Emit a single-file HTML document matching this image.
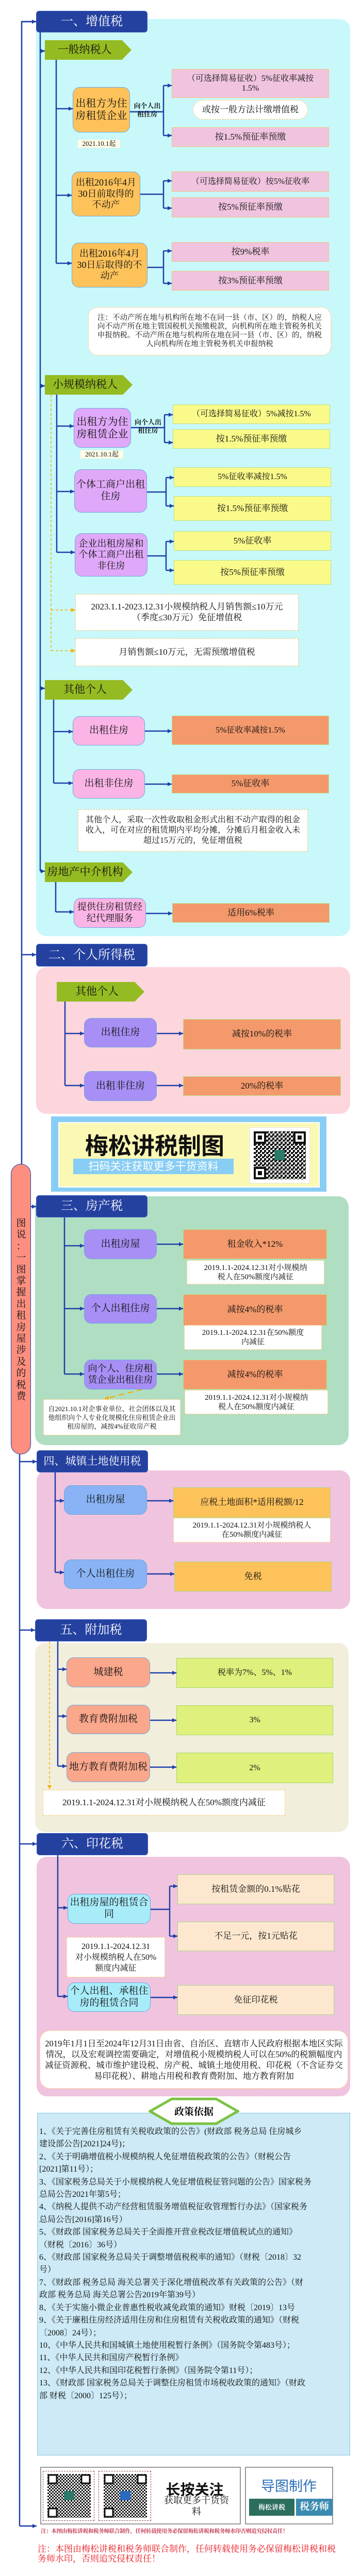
<!DOCTYPE html>
<html><head><meta charset="utf-8">
<style>
*{margin:0;padding:0;box-sizing:border-box}
html{width:700px;height:5052px;overflow:hidden}
body{width:700px;height:5052px;position:relative;background:#fff;overflow:hidden;font-family:"Liberation Serif","Noto Serif CJK SC",serif;color:#111}
.a{position:absolute}
.b{position:absolute;display:flex;align-items:center;justify-content:center;text-align:center;line-height:1.2;z-index:2}
.p{position:absolute;z-index:0}
.hd{background:#2541a0;color:#fff;border-radius:6px;font-size:24px;border:1px solid #3a5cc0;white-space:nowrap}
.pent{background:#95bb22;clip-path:polygon(0 0,89% 0,100% 50%,89% 100%,0 100%);font-size:21px;padding-right:14px}
.rr{border-radius:14px;border:1px solid #6fa8dc}
.pk{background:#f0c4de;border:1px solid #f3c07a;font-size:16px}
.ye{background:#fafa8a;border:1px solid #b8e08a;font-size:16px}
.or{background:#f4996b;border:1px solid #b8e08a;font-size:16px}
.dn{background:#fff;border:1.5px dashed #f5c060;font-size:16px}
.gy{background:#e0f07c;border:1px solid #a8d860;font-size:16px}
.pe{background:#fde8cf;border:1px solid #a8d880;font-size:17px}
.yo{background:#fdc25a;border:1px solid #a8d880;font-size:17px}
</style></head><body>

<!-- panels -->
<div class="p" style="left:70px;top:37px;width:609px;height:1780px;background:#c8f8fa;border-radius:20px"></div>
<div class="p" style="left:70px;top:1877px;width:609px;height:285px;background:#fdd5dd;border-radius:20px"></div>
<div class="p" style="left:68px;top:2322px;width:608px;height:483px;background:#b0dec3;border-radius:20px"></div>
<div class="p" style="left:71px;top:2854px;width:608px;height:269px;background:#f0c4de;border-radius:20px"></div>
<div class="p" style="left:68px;top:3189px;width:608px;height:367px;background:#f2eedc;border-radius:20px"></div>
<div class="p" style="left:71px;top:3604px;width:608px;height:465px;background:#f0c4de;border-radius:20px"></div>

<svg class="a" style="left:0;top:0;z-index:1" width="700" height="5052">
<defs><marker id="m" markerUnits="userSpaceOnUse" markerWidth="8" markerHeight="8" refX="8" refY="4" orient="auto"><path d="M0,0L8,4L0,8z" fill="#1f3fa8"/></marker>
<marker id="mo" markerUnits="userSpaceOnUse" markerWidth="8" markerHeight="8" refX="8" refY="4" orient="auto"><path d="M0,0L8,4L0,8z" fill="#f5b000"/></marker></defs>
<g stroke="#1f3fa8" stroke-width="2.5" fill="none">
<polyline points="70,42 42,42 42,2259"/>
<line x1="42" y1="42" x2="70" y2="42" marker-end="url(#m)"/>
<line x1="42" y1="1853" x2="70" y2="1853" marker-end="url(#m)"/>
<line x1="60" y1="2342" x2="70" y2="2342" marker-end="url(#m)"/>
<line x1="38" y1="2823" x2="38" y2="4903"/>
<line x1="38" y1="2837" x2="71" y2="2837" marker-end="url(#m)"/>
<line x1="38" y1="3164" x2="68" y2="3164" marker-end="url(#m)"/>
<line x1="38" y1="3579" x2="71" y2="3579" marker-end="url(#m)"/>
<line x1="38" y1="4903" x2="71" y2="4903" marker-end="url(#m)"/>
<line x1="78" y1="63" x2="78" y2="1691"/>
<line x1="78" y1="99" x2="87" y2="99" marker-end="url(#m)"/>
<line x1="78" y1="749" x2="87" y2="749" marker-end="url(#m)"/>
<line x1="78" y1="1336" x2="87" y2="1336" marker-end="url(#m)"/>
<line x1="78" y1="1691" x2="87" y2="1691" marker-end="url(#m)"/>
<line x1="109" y1="116" x2="109" y2="511"/>
<line x1="109" y1="211" x2="141" y2="211" marker-end="url(#m)"/>
<line x1="109" y1="379" x2="139" y2="379" marker-end="url(#m)"/>
<line x1="109" y1="511" x2="139" y2="511" marker-end="url(#m)"/>
<line x1="252" y1="217" x2="317" y2="217"/><line x1="317" y1="166" x2="317" y2="263"/>
<line x1="317" y1="166" x2="333" y2="166" marker-end="url(#m)"/><line x1="317" y1="263" x2="333" y2="263" marker-end="url(#m)"/>
<line x1="272" y1="377" x2="317" y2="377"/><line x1="317" y1="351" x2="317" y2="404"/>
<line x1="317" y1="351" x2="333" y2="351" marker-end="url(#m)"/><line x1="317" y1="404" x2="333" y2="404" marker-end="url(#m)"/>
<line x1="286" y1="519" x2="317" y2="519"/><line x1="317" y1="487" x2="317" y2="550"/>
<line x1="317" y1="487" x2="333" y2="487" marker-end="url(#m)"/><line x1="317" y1="550" x2="333" y2="550" marker-end="url(#m)"/>
<line x1="110" y1="766" x2="110" y2="1072"/>
<line x1="110" y1="827" x2="143" y2="827" marker-end="url(#m)"/>
<line x1="110" y1="954" x2="144" y2="954" marker-end="url(#m)"/>
<line x1="110" y1="1072" x2="145" y2="1072" marker-end="url(#m)"/>
<line x1="254" y1="830" x2="319" y2="830"/><line x1="319" y1="805" x2="319" y2="859"/>
<line x1="319" y1="805" x2="335" y2="805" marker-end="url(#m)"/><line x1="319" y1="859" x2="335" y2="859" marker-end="url(#m)"/>
<line x1="285" y1="955" x2="322" y2="955"/><line x1="322" y1="927" x2="322" y2="982"/>
<line x1="322" y1="927" x2="337" y2="927" marker-end="url(#m)"/><line x1="322" y1="982" x2="337" y2="982" marker-end="url(#m)"/>
<line x1="286" y1="1079" x2="322" y2="1079"/><line x1="322" y1="1051" x2="322" y2="1107"/>
<line x1="322" y1="1051" x2="337" y2="1051" marker-end="url(#m)"/><line x1="322" y1="1107" x2="337" y2="1107" marker-end="url(#m)"/>
<line x1="104" y1="1358" x2="104" y2="1520"/>
<line x1="104" y1="1420" x2="141" y2="1420" marker-end="url(#m)"/>
<line x1="104" y1="1520" x2="141" y2="1520" marker-end="url(#m)"/>
<line x1="281" y1="1419" x2="333" y2="1419" marker-end="url(#m)"/>
<line x1="281" y1="1522" x2="333" y2="1522" marker-end="url(#m)"/>
<line x1="108" y1="1712" x2="108" y2="1770"/>
<line x1="108" y1="1770" x2="143" y2="1770" marker-end="url(#m)"/>
<line x1="283" y1="1773" x2="334" y2="1773" marker-end="url(#m)"/>
<line x1="126" y1="1944" x2="126" y2="2107"/>
<line x1="126" y1="2006" x2="163" y2="2006" marker-end="url(#m)"/>
<line x1="126" y1="2107" x2="163" y2="2107" marker-end="url(#m)"/>
<line x1="304" y1="2006" x2="355" y2="2006" marker-end="url(#m)"/>
<line x1="304" y1="2107" x2="355" y2="2107" marker-end="url(#m)"/>
<line x1="125" y1="2363" x2="125" y2="2667"/>
<line x1="125" y1="2418" x2="163" y2="2418" marker-end="url(#m)"/>
<line x1="125" y1="2540" x2="163" y2="2540" marker-end="url(#m)"/>
<line x1="125" y1="2667" x2="163" y2="2667" marker-end="url(#m)"/>
<line x1="304" y1="2415" x2="355" y2="2415" marker-end="url(#m)"/>
<line x1="304" y1="2540" x2="355" y2="2540" marker-end="url(#m)"/>
<line x1="304" y1="2667" x2="355" y2="2667" marker-end="url(#m)"/>
<line x1="107" y1="2858" x2="107" y2="3052"/>
<line x1="107" y1="2913" x2="124" y2="2913" marker-end="url(#m)"/>
<line x1="107" y1="3052" x2="124" y2="3052" marker-end="url(#m)"/>
<line x1="285" y1="2913" x2="336" y2="2913" marker-end="url(#m)"/>
<line x1="285" y1="3055" x2="338" y2="3055" marker-end="url(#m)"/>
<line x1="112" y1="3186" x2="112" y2="3428"/>
<line x1="112" y1="3240" x2="129" y2="3240" marker-end="url(#m)"/>
<line x1="112" y1="3331" x2="129" y2="3331" marker-end="url(#m)"/>
<line x1="112" y1="3428" x2="129" y2="3428" marker-end="url(#m)"/>
<line x1="291" y1="3247" x2="342" y2="3247" marker-end="url(#m)"/>
<line x1="291" y1="3339" x2="342" y2="3339" marker-end="url(#m)"/>
<line x1="291" y1="3430" x2="342" y2="3430" marker-end="url(#m)"/>
<line x1="112" y1="3601" x2="112" y2="3875"/>
<line x1="112" y1="3703" x2="131" y2="3703" marker-end="url(#m)"/>
<line x1="112" y1="3875" x2="131" y2="3875" marker-end="url(#m)"/>
<line x1="292" y1="3706" x2="329" y2="3706"/><line x1="329" y1="3661" x2="329" y2="3758"/>
<line x1="329" y1="3661" x2="344" y2="3661" marker-end="url(#m)"/><line x1="329" y1="3758" x2="344" y2="3758" marker-end="url(#m)"/>
<line x1="292" y1="3877" x2="344" y2="3877" marker-end="url(#m)"/>
</g>
<g stroke="#f5b000" stroke-width="1.5" fill="none" stroke-dasharray="5,4">
<line x1="99" y1="766" x2="99" y2="1263"/>
<line x1="99" y1="1184" x2="146" y2="1184" marker-end="url(#mo)"/>
<line x1="99" y1="1263" x2="146" y2="1263" marker-end="url(#mo)"/>
<line x1="96" y1="3186" x2="96" y2="3473" marker-end="url(#mo)"/>
<line x1="275" y1="2697" x2="203" y2="2715" stroke-width="2.5" stroke-dasharray="10,8" marker-end="url(#mo)"/>
</g>
</svg>

<!-- Section 1 -->
<div class="b hd" style="left:70px;top:21px;width:216px;height:42px">一、增值税</div>
<div class="b pent" style="left:87px;top:78px;width:168px;height:38px">一般纳税人</div>
<div class="b rr" style="left:141px;top:169px;width:111px;height:88px;background:#fdc25a;font-size:20px">出租方为住<br>房租赁企业</div>
<div class="b" style="left:254px;top:198px;width:63px;height:32px;font-size:13px;font-weight:bold">向个人出<br>租住房</div>
<div class="b pk" style="left:333px;top:134px;width:305px;height:56px">（可选择简易征收）5%征收率减按<br>1.5%</div>
<div class="b dn" style="left:374px;top:194px;width:223px;height:38px;border-radius:19px;font-size:17px">或按一般方法计缴增值税</div>
<div class="b pk" style="left:333px;top:247px;width:305px;height:38px;font-size:17px">按1.5%预征率预缴</div>
<div class="b" style="left:151px;top:271px;width:82px;height:16px;background:#fffbe6;font-size:13px">2021.10.1起</div>
<div class="b rr" style="left:139px;top:333px;width:133px;height:87px;background:#fdc25a;font-size:18px">出租2016年4月<br>30日前取得的<br>不动产</div>
<div class="b pk" style="left:333px;top:333px;width:305px;height:39px">（可选择简易征收）按5%征收率</div>
<div class="b pk" style="left:333px;top:383px;width:305px;height:39px;font-size:17px">按5%预征率预缴</div>
<div class="b rr" style="left:139px;top:471px;width:147px;height:87px;background:#fdc25a;font-size:18px">出租2016年4月<br>30日后取得的不<br>动产</div>
<div class="b pk" style="left:333px;top:470px;width:305px;height:38px;font-size:17px">按9%税率</div>
<div class="b pk" style="left:333px;top:526px;width:305px;height:38px;font-size:17px">按3%预征率预缴</div>
<div class="b dn" style="left:171px;top:596px;width:471px;height:94px;border-radius:18px;font-size:14.5px;line-height:17px;padding:0 10px">注：不动产所在地与机构所在地不在同一县（市、区）的，纳税人应向不动产所在地主管国税机关预缴税款，向机构所在地主管税务机关申报纳税。不动产所在地与机构所在地在同一县（市、区）的，纳税人向机构所在地主管税务机关申报纳税</div>

<div class="b pent" style="left:87px;top:728px;width:170px;height:38px">小规模纳税人</div>
<div class="b rr" style="left:143px;top:792px;width:111px;height:77px;background:#e0a8f8;font-size:20px">出租方为住<br>房租赁企业</div>
<div class="b" style="left:257px;top:813px;width:60px;height:30px;font-size:13px;font-weight:bold">向个人出<br>租住房</div>
<div class="b ye" style="left:335px;top:785px;width:305px;height:38px">（可选择简易征收）5%减按1.5%</div>
<div class="b ye" style="left:335px;top:833px;width:305px;height:38px;font-size:17px">按1.5%预征率预缴</div>
<div class="b" style="left:156px;top:874px;width:83px;height:16px;background:#fffbe6;font-size:13px">2021.10.1起</div>
<div class="b rr" style="left:144px;top:911px;width:141px;height:84px;background:#e0a8f8;font-size:19px">个体工商户出租<br>住房</div>
<div class="b ye" style="left:337px;top:907px;width:305px;height:38px">5%征收率减按1.5%</div>
<div class="b ye" style="left:337px;top:963px;width:305px;height:48px;font-size:17px">按1.5%预征率预缴</div>
<div class="b rr" style="left:145px;top:1035px;width:141px;height:84px;background:#e0a8f8;font-size:18px">企业出租房屋和<br>个体工商户出租<br>非住房</div>
<div class="b ye" style="left:337px;top:1031px;width:305px;height:38px;font-size:17px">5%征收率</div>
<div class="b ye" style="left:337px;top:1087px;width:305px;height:48px;font-size:17px">按5%预征率预缴</div>
<div class="b dn" style="left:146px;top:1153px;width:433px;height:71px;font-size:17px">2023.1.1-2023.12.31小规模纳税人月销售额≤10万元<br>（季度≤30万元）免征增值税</div>
<div class="b dn" style="left:146px;top:1239px;width:433px;height:54px;font-size:17px">月销售额≤10万元，无需预缴增值税</div>

<div class="b pent" style="left:87px;top:1320px;width:170px;height:38px">其他个人</div>
<div class="b rr" style="left:141px;top:1390px;width:140px;height:57px;background:#fbb4e6;font-size:19px">出租住房</div>
<div class="b or" style="left:333px;top:1389px;width:305px;height:57px">5%征收率减按1.5%</div>
<div class="b rr" style="left:141px;top:1493px;width:140px;height:57px;background:#fbb4e6;font-size:19px">出租非住房</div>
<div class="b or" style="left:333px;top:1503px;width:305px;height:37px;font-size:17px">5%征收率</div>
<div class="b dn" style="left:151px;top:1571px;width:446px;height:82px;font-size:16px;line-height:20px;padding:0 10px">其他个人，采取一次性收取租金形式出租不动产取得的租金收入，可在对应的租赁期内平均分摊，分摊后月租金收入未超过15万元的，免征增值税</div>
<div class="b pent" style="left:87px;top:1674px;width:170px;height:38px">房地产中介机构</div>
<div class="b rr" style="left:143px;top:1743px;width:140px;height:58px;background:#fbb4e6;font-size:18px">提供住房租赁经<br>纪代理服务</div>
<div class="b or" style="left:334px;top:1753px;width:305px;height:38px;font-size:17px">适用6%税率</div>

<!-- Section 2 -->
<div class="b hd" style="left:70px;top:1832px;width:216px;height:44px">二、个人所得税</div>
<div class="b pent" style="left:110px;top:1906px;width:170px;height:38px">其他个人</div>
<div class="b rr" style="left:163px;top:1976px;width:141px;height:57px;background:#a78ff5;font-size:19px">出租住房</div>
<div class="b or" style="left:355px;top:1978px;width:306px;height:59px;font-size:17px">减按10%的税率</div>
<div class="b rr" style="left:163px;top:2079px;width:141px;height:58px;background:#a78ff5;font-size:19px">出租非住房</div>
<div class="b or" style="left:355px;top:2089px;width:306px;height:38px;font-size:17px">20%的税率</div>

<!-- Banner -->
<div class="a" style="left:99px;top:2167px;width:534px;height:146px;background:#88cdf4;z-index:2"></div>
<div class="a" style="left:113px;top:2178px;width:507px;height:127px;background:#fbf8b4;border:2px solid #fff;z-index:2"></div>
<div class="b" style="left:150px;top:2196px;width:300px;height:50px;font-family:'Noto Sans CJK SC',sans-serif;font-size:45px;font-weight:bold;z-index:3">梅松讲税制图</div>
<div class="b" style="left:142px;top:2249px;width:311px;height:30px;background:#88cdf4;color:#fff;font-family:'Noto Sans CJK SC',sans-serif;font-size:21px;z-index:3">扫码关注获取更多干货资料</div>
<svg class="a" style="left:484px;top:2188px;z-index:3" width="117" height="109" viewBox="0 0 117 109">
<rect width="117" height="109" fill="#fff" stroke="#ccc"/>
<defs><pattern id="q" width="8" height="8" patternUnits="userSpaceOnUse"><rect width="4" height="4" fill="#111"/><rect x="4" y="4" width="4" height="4" fill="#111"/><rect x="4" y="0" width="2" height="2" fill="#111"/></pattern></defs>
<rect x="8" y="8" width="101" height="93" fill="url(#q)"/>
<g fill="#fff" stroke="#111" stroke-width="4"><rect x="10" y="10" width="20" height="20"/><rect x="87" y="10" width="20" height="20"/><rect x="10" y="79" width="20" height="20"/></g>
<g fill="#111"><rect x="16" y="16" width="8" height="8"/><rect x="93" y="16" width="8" height="8"/><rect x="16" y="85" width="8" height="8"/></g>
<rect x="48" y="44" width="20" height="20" fill="#2b7a6a"/>
</svg>

<!-- Pill -->
<div class="a" style="left:21px;top:2259px;width:39px;height:564px;background:#fd8f80;border:1.5px solid #1f3fa8;border-radius:20px;z-index:2;overflow:hidden"><div style="position:absolute;left:8px;top:104px;width:22px;font-size:19px;line-height:22.4px;text-align:center">图<br>说<br>：<br>一<br>图<br>掌<br>握<br>出<br>租<br>房<br>屋<br>涉<br>及<br>的<br>税<br>费</div></div>

<!-- Section 3 -->
<div class="b hd" style="left:70px;top:2320px;width:216px;height:43px">三、房产税</div>
<div class="b rr" style="left:163px;top:2386px;width:141px;height:58px;background:#a78ff5;font-size:19px">出租房屋</div>
<div class="b or" style="left:355px;top:2386px;width:279px;height:58px;font-size:17px">租金收入*12%</div>
<div class="b dn" style="left:362px;top:2446px;width:267px;height:47px;font-size:15px">2019.1.1-2024.12.31对小规模纳<br>税人在50%额度内减征</div>
<div class="b rr" style="left:163px;top:2512px;width:141px;height:57px;background:#a78ff5;font-size:19px">个人出租住房</div>
<div class="b or" style="left:355px;top:2512px;width:279px;height:61px;font-size:17px">减按4%的税率</div>
<div class="b dn" style="left:357px;top:2572px;width:267px;height:48px;font-size:15px">2019.1.1-2024.12.31在50%额度<br>内减征</div>
<div class="b rr" style="left:163px;top:2639px;width:141px;height:58px;background:#a78ff5;font-size:18px">向个人、住房租<br>赁企业出租住房</div>
<div class="b or" style="left:355px;top:2639px;width:279px;height:58px;font-size:17px">减按4%的税率</div>
<div class="b dn" style="left:358px;top:2698px;width:278px;height:47px;font-size:15px">2019.1.1-2024.12.31对小规模纳<br>税人在50%额度内减征</div>
<div class="b dn" style="left:84px;top:2716px;width:266px;height:70px;font-size:13px;line-height:17px;padding:0 3px">自2021.10.1对企事业单位、社会团体以及其他组织向个人专业化规模化住房租赁企业出租房屋的，减按4%征收房产税</div>

<!-- Section 4 -->
<div class="b hd" style="left:71px;top:2815px;width:216px;height:43px;font-size:21px">四、城镇土地使用税</div>
<div class="b rr" style="left:124px;top:2883px;width:161px;height:57px;background:#89b3f5;font-size:19px">出租房屋</div>
<div class="b yo" style="left:336px;top:2887px;width:305px;height:59px">应税土地面积*适用税额/12</div>
<div class="b dn" style="left:336px;top:2946px;width:305px;height:48px;font-size:15px">2019.1.1-2024.12.31对小规模纳税人<br>在50%额度内减征</div>
<div class="b rr" style="left:124px;top:3027px;width:161px;height:57px;background:#89b3f5;font-size:19px">个人出租住房</div>
<div class="b yo" style="left:338px;top:3031px;width:305px;height:58px">免税</div>

<!-- Section 5 -->
<div class="b hd" style="left:68px;top:3143px;width:217px;height:43px">五、附加税</div>
<div class="b rr" style="left:129px;top:3217px;width:162px;height:58px;background:#fba78c;font-size:19px">城建税</div>
<div class="b gy" style="left:342px;top:3218px;width:304px;height:58px">税率为7%、5%、1%</div>
<div class="b rr" style="left:129px;top:3309px;width:162px;height:57px;background:#fba78c;font-size:19px">教育费附加税</div>
<div class="b gy" style="left:342px;top:3310px;width:304px;height:58px">3%</div>
<div class="b rr" style="left:129px;top:3401px;width:162px;height:58px;background:#fba78c;font-size:19px">地方教育费附加税</div>
<div class="b gy" style="left:342px;top:3402px;width:304px;height:59px">2%</div>
<div class="b dn" style="left:83px;top:3474px;width:470px;height:50px;font-size:17px">2019.1.1-2024.12.31对小规模纳税人在50%额度内减征</div>

<!-- Section 6 -->
<div class="b hd" style="left:71px;top:3558px;width:216px;height:43px">六、印花税</div>
<div class="b rr" style="left:131px;top:3676px;width:161px;height:58px;background:#a8ecfa;font-size:19px">出租房屋的租赁合<br>同</div>
<div class="b pe" style="left:344px;top:3638px;width:304px;height:58px">按租赁金额的0.1%贴花</div>
<div class="b pe" style="left:344px;top:3730px;width:304px;height:57px">不足一元，按1元贴花</div>
<div class="b dn" style="left:129px;top:3760px;width:191px;height:78px;font-size:16px;line-height:21px">2019.1.1-2024.12.31<br>对小规模纳税人在50%<br>额度内减征</div>
<div class="b rr" style="left:131px;top:3848px;width:161px;height:57px;background:#a8ecfa;font-size:19px">个人出租、承租住<br>房的租赁合同</div>
<div class="b pe" style="left:344px;top:3853px;width:304px;height:58px">免征印花税</div>
<div class="b dn" style="left:77px;top:3941px;width:598px;height:113px;border-radius:20px;font-size:16.5px;line-height:21px;padding:0 4px">2019年1月1日至2024年12月31日由省、自治区、直辖市人民政府根据本地区实际情况，以及宏观调控需要确定，对增值税小规模纳税人可以在50%的税额幅度内减征资源税、城市维护建设税、房产税、城镇土地使用税、印花税（不含证券交易印花税）、耕地占用税和教育费附加、地方教育附加</div>

<!-- Policy -->
<div class="a" style="left:72px;top:4101px;width:607px;height:665px;background:#cdeaf6;border:1px solid #8fc6e8;z-index:2;font-size:16px;line-height:24.4px;padding:24px 0 0 3px;white-space:nowrap;overflow:hidden">
1、《关于完善住房租赁有关税收政策的公告》(财政部 税务总局 住房城乡<br>建设部公告[2021]24号)；<br>2、《关于明确增值税小规模纳税人免征增值税政策的公告》（财税公告<br>[2021]第11号）；<br>3、《国家税务总局关于小规模纳税人免征增值税征管问题的公告》国家税务<br>总局公告2021年第5号；<br>4、《纳税人提供不动产经营租赁服务增值税征收管理暂行办法》（国家税务<br>总局公告[2016]第16号）<br>5、《财政部 国家税务总局关于全面推开营业税改征增值税试点的通知》<br>（财税〔2016〕36号）<br>6、《财政部 国家税务总局关于调整增值税税率的通知》（财税〔2018〕32<br>号）<br>7、《财政部 税务总局 海关总署关于深化增值税改革有关政策的公告》（财<br>政部 税务总局 海关总署公告2019年第39号）<br>8、《关于实施小微企业普惠性税收减免政策的通知》财税〔2019〕13号<br>9、《关于廉租住房经济适用住房和住房租赁有关税收政策的通知》（财税<br>〔2008〕24号）；<br>10、《中华人民共和国城镇土地使用税暂行条例》（国务院令第483号）；<br>11、《中华人民共和国房产税暂行条例》<br>12、《中华人民共和国印花税暂行条例》（国务院令第11号）；<br>13、《财政部 国家税务总局关于调整住房租赁市场税收政策的通知》（财政<br>部 财税〔2000〕125号）；
</div>
<svg class="a" style="left:288px;top:4071px;z-index:3" width="176" height="54"><polygon points="3,27 45,3 131,3 173,27 131,51 45,51" fill="#fff" stroke="#7cc242" stroke-width="5"/><text x="88" y="34" text-anchor="middle" font-size="19" font-weight="bold" font-family="Liberation Serif,Noto Serif CJK SC,serif">政策依据</text></svg>

<!-- Footer -->
<div class="a" style="left:78px;top:4788px;width:389px;height:112px;border:2px solid #999;background:#fff;z-index:2"></div>
<div class="a" style="left:83px;top:4796px;width:100px;height:97px;border:1.5px dashed #844;z-index:3"></div>
<div class="a" style="left:191px;top:4796px;width:102px;height:97px;border:1.5px dashed #844;z-index:3"></div>
<svg class="a" style="left:92px;top:4802px;z-index:3" width="84" height="85"><defs><pattern id="q2" width="6" height="6" patternUnits="userSpaceOnUse"><rect width="3" height="3" fill="#111"/><rect x="3" y="3" width="3" height="3" fill="#111"/></pattern></defs><rect x="0" y="0" width="84" height="85" fill="url(#q2)"/><g fill="#fff" stroke="#111" stroke-width="3"><rect x="2" y="2" width="16" height="16"/><rect x="66" y="2" width="16" height="16"/><rect x="2" y="67" width="16" height="16"/></g><rect x="32" y="33" width="20" height="18" fill="#2b7a6a"/></svg>
<svg class="a" style="left:201px;top:4802px;z-index:3" width="84" height="85"><rect x="0" y="0" width="84" height="85" fill="url(#q2)"/><g fill="#fff" stroke="#111" stroke-width="3"><rect x="2" y="2" width="16" height="16"/><rect x="66" y="2" width="16" height="16"/><rect x="2" y="67" width="16" height="16"/></g><rect x="32" y="33" width="20" height="18" fill="#2a6ac0"/></svg>
<div class="b" style="left:310px;top:4816px;width:135px;height:32px;font-family:'Noto Sans CJK SC',sans-serif;font-size:28px;font-weight:bold;z-index:3">长按关注</div>
<div class="b" style="left:310px;top:4854px;width:142px;height:22px;font-size:18px;z-index:3">获取更多干货资料</div>
<div class="a" style="left:475px;top:4788px;width:171px;height:112px;border:2px solid #999;background:#fff;z-index:2"></div>
<div class="b" style="left:495px;top:4808px;width:130px;height:32px;font-family:'Noto Sans CJK SC',sans-serif;font-size:27px;color:#2b6fb8;z-index:3">导图制作</div>
<div class="b" style="left:483px;top:4850px;width:88px;height:33px;background:#2b6e5e;color:#fff;font-size:13px;font-weight:bold;z-index:3">梅松讲税</div>
<div class="b" style="left:574px;top:4850px;width:71px;height:33px;background:#3a8ab0;color:#fff;font-size:19px;font-weight:bold;z-index:3">税务师</div>
<div class="a" style="left:79px;top:4905px;width:570px;font-size:10.5px;font-weight:bold;color:#c0304a;white-space:nowrap;z-index:2;letter-spacing:-0.3px;overflow:hidden">注：本图由梅松讲税和税务师联合制作，任何转载使用务必保留梅松讲税和税务师水印否则追究侵权责任！</div>
<div class="a" style="left:73px;top:4938px;width:590px;font-size:17px;line-height:19px;color:#e8141c;z-index:2">注：本图由梅松讲税和税务师联合制作，任何转载使用务必保留梅松讲税和税务师水印，否则追究侵权责任！</div>
<div class="a" style="left:71px;top:5002px;width:580px;height:7px;background:radial-gradient(circle at 3.5px 3.5px,#d2895a 3px,transparent 3.5px) 0 0/8.8px 7px repeat-x"></div>
<div class="a" style="left:71px;top:5022px;width:586px;height:10px;background:radial-gradient(ellipse 5px 4.5px at 5px 5px,#3a9de0 95%,transparent 100%) 0 0/11px 10px repeat-x"></div>
</body></html>
